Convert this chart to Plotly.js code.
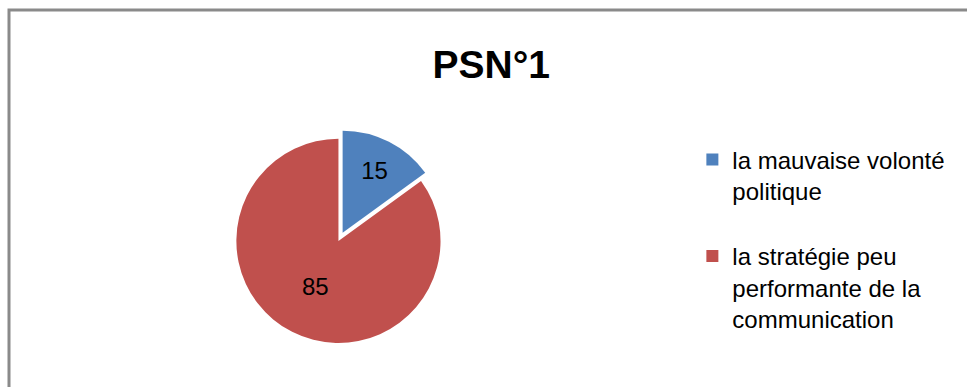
<!DOCTYPE html>
<html>
<head>
<meta charset="utf-8">
<script src="https://cdn.plot.ly/plotly-3.0.1.min.js"></script>
<style>
html,body{margin:0;padding:0;background:#fff;}
#chart{width:967px;height:387px;}
</style>
</head>
<body>
<div id="chart"></div>
<script>
var categories = ["la mauvaise volonté<br>politique<br> ", "la stratégie peu<br>performante de la<br>communication"];
var values = [15, 85];
var colors = ["#4F81BD", "#C0504D"];
var chartTitle = "PSN°1";

var trace = {
  type: "pie",
  labels: categories,
  values: values,
  sort: false,
  direction: "clockwise",
  rotation: 0,
  pull: [0.09, 0],
  marker: {colors: colors, line: {color: "#ffffff", width: 0}},
  textinfo: "value",
  textposition: "inside",
  insidetextfont: {family: "Liberation Sans, Arial, sans-serif", size: 24, color: "#000000"},
  domain: {x: [0.18, 0.52], y: [0.09, 0.665]},
  hoverinfo: "label+value"
};

var layout = {
  width: 967,
  height: 387,
  margin: {l: 0, r: 0, t: 0, b: 0},
  paper_bgcolor: "#ffffff",
  title: {
    text: "<b>" + chartTitle + "</b>",
    font: {family: "Liberation Sans, Arial, sans-serif", size: 39, color: "#000000"},
    x: 0.508, xanchor: "center",
    y: 0.835, yanchor: "middle"
  },
  showlegend: true,
  legend: {
    x: 0.716, xanchor: "left",
    y: 0.645, yanchor: "top",
    valign: "top",
    font: {family: "Liberation Sans, Arial, sans-serif", size: 24, color: "#000000"},
    itemsizing: "constant",
    bgcolor: "rgba(0,0,0,0)"
  },
  shapes: [{
    type: "rect", xref: "paper", yref: "paper",
    x0: 9/967, x1: 1.02, y0: -0.05, y1: 1 - 10/387,
    line: {color: "#8a8a8a", width: 3},
    fillcolor: "rgba(0,0,0,0)"
  }]
};

Plotly.newPlot("chart", [trace], layout, {displayModeBar: false, staticPlot: true});
</script>
</body>
</html>
